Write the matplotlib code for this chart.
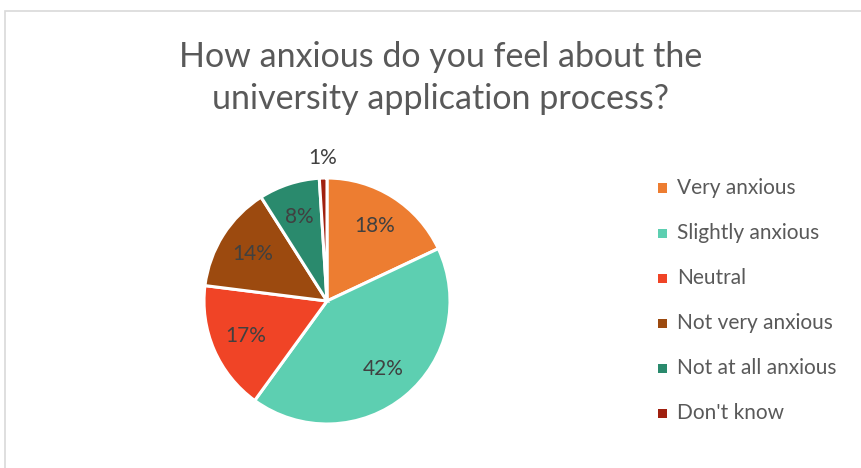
import numpy as np
import matplotlib.pyplot as plt
from matplotlib.patches import Rectangle

categories = ["Very anxious", "Slightly anxious", "Neutral",
              "Not very anxious", "Not at all anxious", "Don't know"]
shares = [18, 42, 17, 14, 8, 1]
colors = ["#ED7D31", "#5DCFB1", "#F04426", "#9C4A0F", "#2A8A6D", "#A0200F"]

plt.rcParams['font.family'] = ['Lato', 'DejaVu Sans']

fig = plt.figure(figsize=(8.61, 4.68), dpi=100)
fig.patch.set_facecolor('white')

# chart frame (only top and left edges fall inside the image)
fig.add_artist(Rectangle((5 / 861, -0.1), 1.2, 1 - 11 / 468 + 0.1,
                         transform=fig.transFigure, fill=False,
                         edgecolor='#D9D9D9', linewidth=1.2))

fig.text(441 / 861, 1 - 57 / 468, "How anxious do you feel about the",
         ha='center', va='center', fontsize=24.5, color='#595959')
fig.text(441 / 861, 1 - 99 / 468, "university application process?",
         ha='center', va='center', fontsize=24.5, color='#595959')

r_px = 123
cx, cy = 327, 301
ax = fig.add_axes([(cx - r_px) / 861, 1 - (cy + r_px) / 468,
                   2 * r_px / 861, 2 * r_px / 468])
wedges, texts, autotexts = ax.pie(
    shares, colors=colors, startangle=90, counterclock=False,
    autopct='%d%%', pctdistance=0.72, radius=1,
    wedgeprops=dict(edgecolor='white', linewidth=2.2),
    textprops=dict(fontsize=15, color='#404040'))
ax.set_xlim(-1, 1)
ax.set_ylim(-1, 1)
ax.set_aspect('auto')

# smallest slice label sits outside the pie
w = wedges[-1]
ang = np.deg2rad((w.theta1 + w.theta2) / 2)
autotexts[-1].set_position((1.16 * np.cos(ang), 1.16 * np.sin(ang)))

# legend
for i, (name, col) in enumerate(zip(categories, colors)):
    y = 1 - (188 + 45 * i) / 468
    fig.add_artist(Rectangle((658 / 861, y - 4.5 / 468), 9 / 861, 9 / 468,
                             transform=fig.transFigure, facecolor=col,
                             edgecolor='none'))
    fig.text(677 / 861, y, name, ha='left', va='center',
             fontsize=15, color='#595959')

fig.savefig("out.png", dpi=100, facecolor='white')
